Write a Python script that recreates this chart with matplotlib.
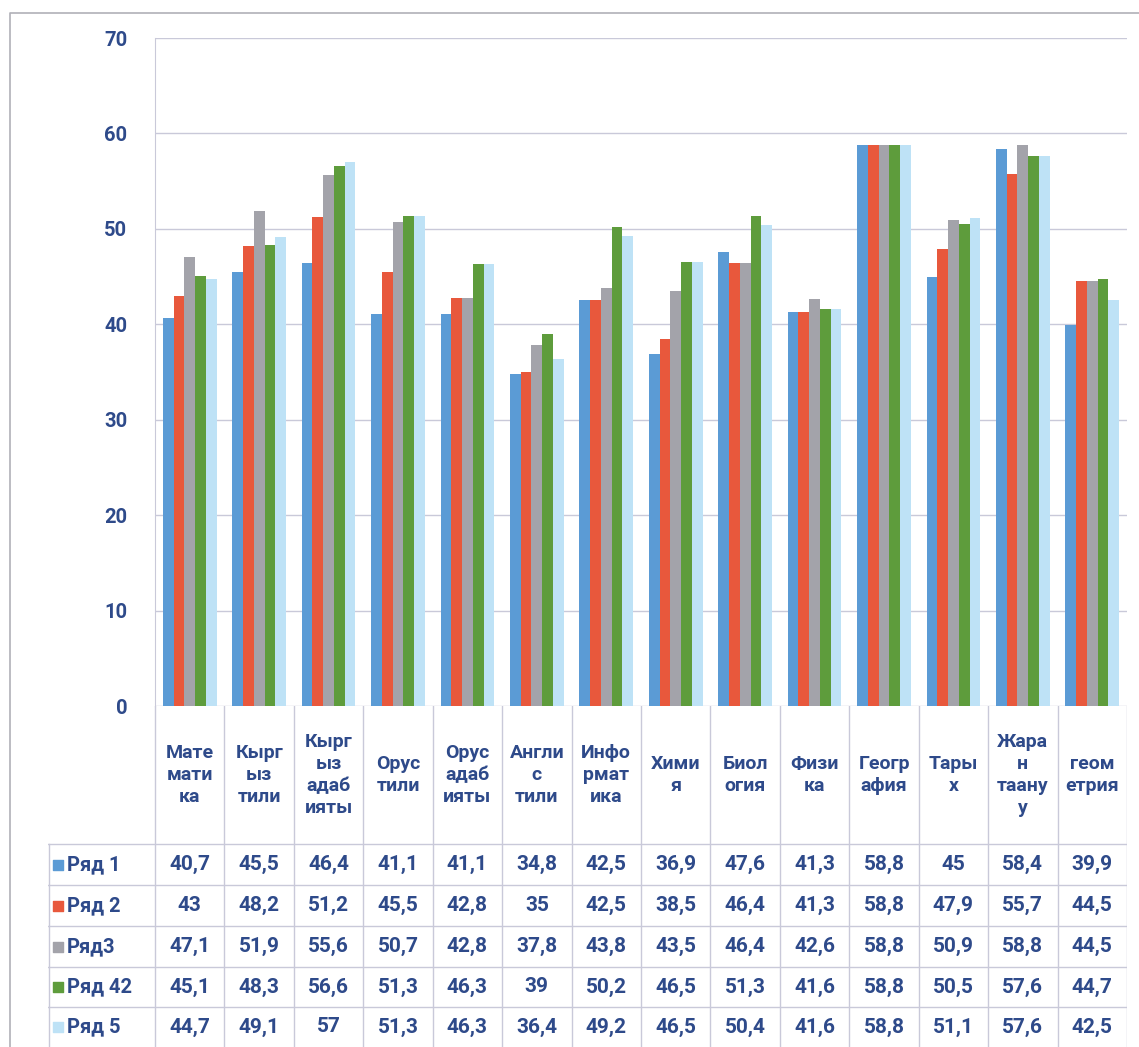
import numpy as np
import matplotlib.pyplot as plt

plt.rcParams['font.family'] = ['Roboto', 'DejaVu Sans']

# данные из таблицы
subjects = ['Мате\nмати\nка', 'Кырг\nыз\nтили', 'Кырг\nыз\nадаб\nияты', 'Орус\nтили',
            'Орус\nадаб\nияты', 'Англи\nс\nтили', 'Инфо\nрмат\nика', 'Хими\nя',
            'Биол\nогия', 'Физи\nка', 'Геогр\nафия', 'Тары\nх', 'Жара\nн\nтаану\nу',
            'геом\nетрия']
series_names = ['Ряд 1', 'Ряд 2', 'Ряд3', 'Ряд 42', 'Ряд 5']
row1 = [40.7, 45.5, 46.4, 41.1, 41.1, 34.8, 42.5, 36.9, 47.6, 41.3, 58.8, 45, 58.4, 39.9]
row2 = [43, 48.2, 51.2, 45.5, 42.8, 35, 42.5, 38.5, 46.4, 41.3, 58.8, 47.9, 55.7, 44.5]
row3 = [47.1, 51.9, 55.6, 50.7, 42.8, 37.8, 43.8, 43.5, 46.4, 42.6, 58.8, 50.9, 58.8, 44.5]
row42 = [45.1, 48.3, 56.6, 51.3, 46.3, 39, 50.2, 46.5, 51.3, 41.6, 58.8, 50.5, 57.6, 44.7]
row5 = [44.7, 49.1, 57, 51.3, 46.3, 36.4, 49.2, 46.5, 50.4, 41.6, 58.8, 51.1, 57.6, 42.5]
series = [row1, row2, row3, row42, row5]
colors = ['#5B9BD5', '#E8583C', '#A3A3AA', '#5E9C3C', '#BEE2F6']

txt_color = '#2E4A8A'
grid_color = '#C9C9D9'

W, H = 1139, 1047
fig = plt.figure(figsize=(W / 100, H / 100), dpi=100)


def box(x0, y0, x1, y1):
    # пиксели -> доли фигуры
    return [x0 / W, 1 - y1 / H, (x1 - x0) / W, (y1 - y0) / H]


# рамка диаграммы
frame = fig.add_axes([0, 0, 1, 1])
frame.set_xlim(0, W)
frame.set_ylim(H, 0)
frame.axis('off')
frame.plot([10, 10, 1139], [1047, 13, 13], color='#B0B0B8', lw=1.2)

# гистограмма
px_l, px_r, px_t, px_b = 155, 1127, 38, 706
ax = fig.add_axes(box(px_l, px_t, px_r, px_b))
n = len(subjects)
x = np.arange(n)
bw = 0.155
for i, (vals, c) in enumerate(zip(series, colors)):
    ax.bar(x + (i - 2) * bw, vals, bw, color=c, zorder=3)
ax.set_xlim(-0.5, n - 0.5)
ax.set_ylim(0, 70)
ax.set_yticks(range(0, 71, 10))
ax.yaxis.grid(True, color=grid_color, lw=1)
ax.set_xticks([])
for s in ['top', 'right', 'bottom']:
    ax.spines[s].set_visible(False)
ax.spines['left'].set_color(grid_color)
ax.tick_params(axis='y', length=0, pad=20, labelsize=14.5, labelcolor=txt_color)
for lab in ax.get_yticklabels():
    lab.set_fontweight('bold')

# таблица данных
leg_l = 48
unit = (px_r - px_l) / n
tab = fig.add_axes(box(leg_l, px_b, px_r, H))
tab.set_xlim(-0.5 - (px_l - leg_l) / unit, n - 0.5)
row_tops = [706, 844, 885, 926, 967, 1007, 1047]
tab.set_ylim(H, px_b)
tab.axis('off')

lc = grid_color
# вертикальные линии
for k in range(n + 1):
    tab.plot([k - 0.5, k - 0.5], [row_tops[0], H], color=lc, lw=1)
tab.plot([tab.get_xlim()[0] + 0.01] * 2, [row_tops[1], H], color=lc, lw=1)
# горизонтальные линии
for yy in row_tops[1:-1]:
    tab.plot([tab.get_xlim()[0], n - 0.5], [yy, yy], color=lc, lw=1)

# заголовки предметов
hy = (row_tops[0] + row_tops[1]) / 2
for k, s in enumerate(subjects):
    tab.text(k, hy, s, ha='center', va='center', fontsize=14, fontweight='bold',
             color=txt_color, linespacing=1.3)

# строки значений
lx = tab.get_xlim()[0]
for r, (name, vals, c) in enumerate(zip(series_names, series, colors)):
    cy = (row_tops[r + 1] + row_tops[r + 2]) / 2
    tab.scatter([lx + 0.15], [cy], marker='s', s=60, color=c)
    tab.text(lx + 0.27, cy, name, ha='left', va='center', fontsize=14.5,
             fontweight='bold', color=txt_color)
    for k, v in enumerate(vals):
        tab.text(k, cy, f'{v:g}'.replace('.', ','), ha='center', va='center',
                 fontsize=15, fontweight='bold', color=txt_color)

fig.savefig('out.png', dpi=100)
